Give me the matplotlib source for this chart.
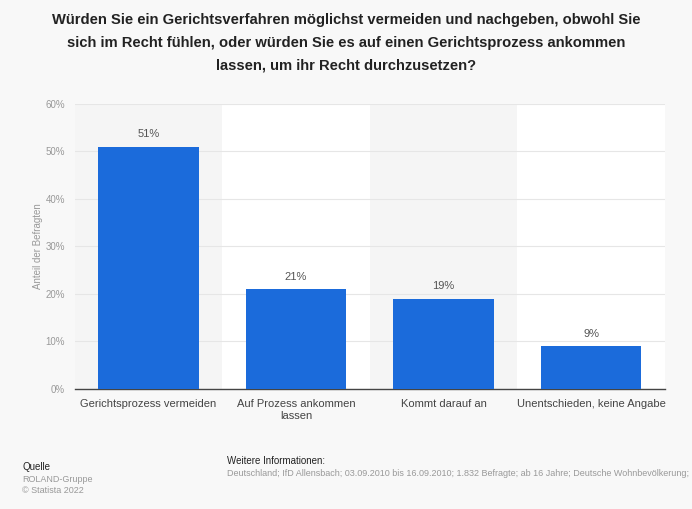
import matplotlib.pyplot as plt
import numpy as np

plt.rcParams['font.family'] = ['Liberation Sans', 'DejaVu Sans']

# Data
categories = ['Gerichtsprozess vermeiden', 'Auf Prozess ankommen\nlassen',
              'Kommt darauf an', 'Unentschieden, keine Angabe']
values = [51, 21, 19, 9]
y_ticks = [0, 10, 20, 30, 40, 50, 60]

title = ('Würden Sie ein Gerichtsverfahren möglichst vermeiden und nachgeben, obwohl Sie\n'
         'sich im Recht fühlen, oder würden Sie es auf einen Gerichtsprozess ankommen\n'
         'lassen, um ihr Recht durchzusetzen?')
info = ('Deutschland; IfD Allensbach; 03.09.2010 bis 16.09.2010; 1.832 Befragte; ab 16 Jahre; '
        'Deutsche Wohnbevölkerung; Face-to-Face-Interview')

fig = plt.figure(figsize=(6.92, 5.09), dpi=100)
fig.patch.set_facecolor('#f8f8f8')
ax = fig.add_axes([0.108, 0.236, 0.853, 0.560])
ax.set_facecolor('white')

x = np.arange(len(categories))
# alternating background bands
for i in x:
    if i % 2 == 0:
        ax.axvspan(i - 0.5, i + 0.5, color='#f5f5f5', zorder=0, lw=0)

ax.bar(x, values, width=0.68, color='#1b6bdb', zorder=3)
for xi, v in zip(x, values):
    ax.text(xi, v + 1.5, f'{v}%', ha='center', va='bottom', fontsize=8, color='#555555')

ax.set_xlim(-0.5, len(categories) - 0.5)
ax.set_ylim(0, 60)
ax.set_yticks(y_ticks)
ax.set_yticklabels([f'{t}%' for t in y_ticks], fontsize=7, color='#999999')
ax.set_xticks(x)
ax.set_xticklabels(categories, fontsize=8, color='#444444', linespacing=1.3)
ax.tick_params(axis='both', length=0, pad=7)
ax.yaxis.grid(True, color='#e6e6e6', lw=0.8, zorder=1)
ax.set_axisbelow(True)
for s in ['top', 'right', 'left']:
    ax.spines[s].set_visible(False)
ax.spines['bottom'].set_color('#444444')
ax.spines['bottom'].set_linewidth(1)
ax.set_ylabel('Anteil der Befragten', fontsize=7, color='#999999', labelpad=2)

fig.text(0.5, 0.974, title, ha='center', va='top', fontsize=10.6, fontweight='bold',
         color='#222222', linespacing=1.8)

fig.text(0.032, 0.077, 'Quelle', fontsize=7, color='#222222')
fig.text(0.032, 0.054, 'ROLAND-Gruppe', fontsize=6.5, color='#999999')
fig.text(0.032, 0.032, '© Statista 2022', fontsize=6.5, color='#999999')
fig.text(0.328, 0.088, 'Weitere Informationen:', fontsize=7, color='#222222')
fig.text(0.328, 0.064, info, fontsize=6.5, color='#999999')

fig.savefig('out.png', dpi=100, facecolor=fig.get_facecolor())
